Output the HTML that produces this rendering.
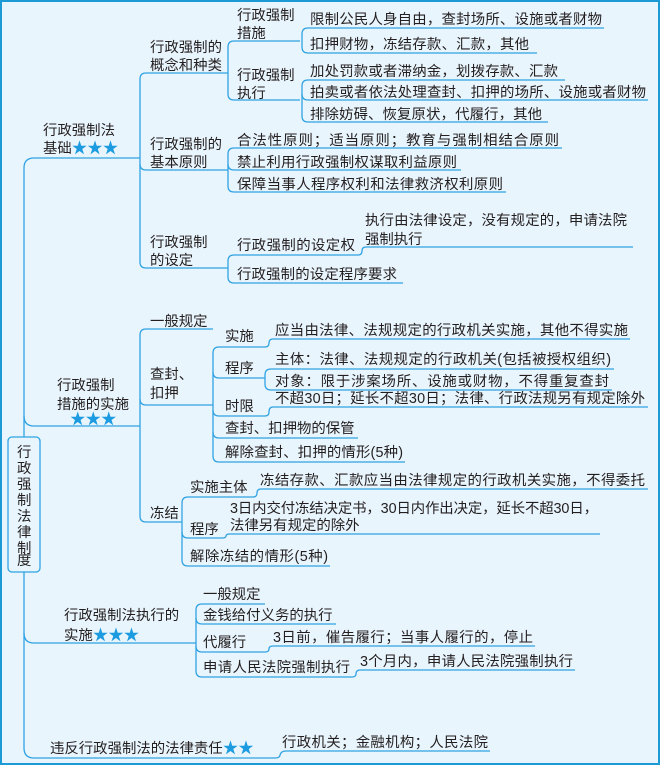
<!DOCTYPE html>
<html><head><meta charset="utf-8"><style>
html,body{margin:0;padding:0;background:#e9f5fd;}
svg{display:block;}
text{font-family:"Liberation Sans","Noto Sans CJK SC",sans-serif;font-size:14.4px;fill:#231f20;}
.s{fill:#1c9be0;font-size:15.5px;}
path{fill:none;stroke:#2fa2e3;stroke-width:1.3;}
</style></head><body>
<svg width="660" height="765" viewBox="0 0 660 765" xmlns="http://www.w3.org/2000/svg">
<rect x="0" y="0" width="660" height="765" fill="#e9f5fd"/>
<rect x="1" y="1" width="658" height="763" fill="none" stroke="#1b9ad6" stroke-width="2"/>

<!-- trunk -->
<path d="M24,437 L24,168 Q24,158 34,158 L140,158"/>
<path d="M24,416 Q24,426 34,426 L140,426"/>
<path d="M24,572 L24,748 Q24,758 34,758 L275,758 Q280,758 280,755 Q281,751 286,751 L490,751"/>
<path d="M24,633 Q24,643 34,643 L196,643"/>
<rect x="8" y="437" width="32" height="135" rx="4" fill="#e9f5fd" stroke="#2fa2e3" stroke-width="1.3"/>
<text x="17" y="457">行</text><text x="17" y="473">政</text><text x="17" y="489">强</text><text x="17" y="505">制</text><text x="17" y="521">法</text><text x="17" y="537">律</text><text x="17" y="553">制</text><text x="17" y="569" dy="-4">度</text>

<!-- section 1 -->
<text x="43" y="135">行政强制法</text>
<text x="43" y="153">基础<tspan class="s">★★★</tspan></text>
<path d="M140,79 Q140,73 146,73 L228,73"/>
<path d="M140,79 L140,262 Q140,268 146,268 L228,268"/>
<path d="M140,164 Q140,170 146,170 L228,170"/>
<text x="150" y="52">行政强制的</text><text x="150" y="70">概念和种类</text>
<text x="150" y="149">行政强制的</text><text x="150" y="167">基本原则</text>
<text x="150" y="247">行政强制</text><text x="150" y="265">的设定</text>

<path d="M228,47 Q228,41 234,41 L300,41"/>
<path d="M228,47 L228,94 Q228,100 234,100 L300,100"/>
<text x="237" y="20">行政强制</text><text x="237" y="38">措施</text>
<text x="237" y="80">行政强制</text><text x="237" y="98">执行</text>

<path d="M302,34 Q302,28 308,28 L604,28"/>
<path d="M302,34 L302,47 Q302,53 308,53 L537,53"/>
<text x="310" y="24" textLength="292">限制公民人身自由，查封场所、设施或者财物</text>
<text x="310" y="49" textLength="219">扣押财物，冻结存款、汇款，其他</text>

<path d="M302,86 Q302,80 308,80 L565,80"/>
<path d="M302,86 L302,116 Q302,122 308,122 L548,122"/>
<path d="M302,94 Q302,100 308,100 L648,100"/>
<text x="310" y="76" textLength="248">加处罚款或者滞纳金，划拨存款、汇款</text>
<text x="310" y="97" textLength="336">拍卖或者依法处理查封、扣押的场所、设施或者财物</text>
<text x="310" y="119" textLength="232">排除妨碍、恢复原状，代履行，其他</text>

<path d="M228,154 Q228,148 234,148 L562,148"/>
<path d="M228,154 L228,186 Q228,192 234,192 L506,192"/>
<path d="M228,164 Q228,170 234,170 L461,170"/>
<text x="237" y="145" textLength="322">合法性原则；适当原则；教育与强制相结合原则</text>
<text x="237" y="167" textLength="220">禁止利用行政强制权谋取利益原则</text>
<text x="237" y="189" textLength="266">保障当事人程序权利和法律救济权利原则</text>

<path d="M228,261 Q228,255 234,255 L358,255 Q362,255 362,251 Q362,247 366,247 L633,247"/>
<path d="M228,261 L228,277 Q228,283 234,283 L403,283"/>
<text x="237" y="250" textLength="118">行政强制的设定权</text>
<text x="365" y="225" textLength="262">执行由法律设定，没有规定的，申请法院</text>
<text x="365" y="244">强制执行</text>
<text x="237" y="279" textLength="160">行政强制的设定程序要求</text>

<!-- section 2 -->
<text x="57" y="390">行政强制</text>
<text x="57" y="409">措施的实施</text>
<text x="70" y="424" class="s">★★★</text>
<path d="M140,335 Q140,329 146,329 L213,329"/>
<path d="M140,335 L140,516 Q140,522 146,522 L182,522"/>
<path d="M140,399 Q140,405 146,405 L213,405"/>
<text x="150" y="326">一般规定</text>
<text x="150" y="379">查封、</text><text x="150" y="398">扣押</text>
<text x="150" y="518">冻结</text>

<path d="M213,353 Q213,347 219,347 L265,347 Q269,347 269,343 Q269,339 273,339 L630,339"/>
<path d="M213,353 L213,456 Q213,462 219,462 L405,462"/>
<path d="M213,372 Q213,378 219,378 L265,378"/>
<path d="M213,410 Q213,416 219,416 L265,416 Q269,416 269,412 Q269,407 273,407 L648,407"/>
<path d="M213,432 Q213,438 219,438 L358,438"/>
<text x="225" y="341">实施</text>
<text x="225" y="373">程序</text>
<text x="225" y="411">时限</text>
<text x="225" y="433">查封、扣押物的保管</text>
<text x="225" y="457" textLength="178">解除查封、扣押的情形(5种)</text>
<text x="275" y="335" textLength="353">应当由法律、法规规定的行政机关实施，其他不得实施</text>

<path d="M265,375 Q265,369 271,369 L614,369"/>
<path d="M265,375 L265,384 Q265,390 271,390 L612,390"/>
<text x="275" y="364" textLength="336">主体：法律、法规规定的行政机关(包括被授权组织)</text>
<text x="275" y="386" textLength="334">对象：限于涉案场所、设施或财物，不得重复查封</text>
<text x="275" y="403" textLength="370">不超30日；延长不超30日；法律、行政法规另有规定除外</text>

<path d="M182,503 Q182,497 188,497 L253,497 Q257,497 257,493 Q257,489 261,489 L648,489"/>
<path d="M182,503 L182,560 Q182,566 188,566 L330,566"/>
<path d="M182,532 Q182,538 188,538 L222,538 Q226,538 226,536 Q226,534 230,534 L600,534"/>
<text x="190" y="492">实施主体</text>
<text x="260" y="485" textLength="385">冻结存款、汇款应当由法律规定的行政机关实施，不得委托</text>
<text x="190" y="534">程序</text>
<text x="230" y="513" textLength="368">3日内交付冻结决定书，30日内作出决定，延长不超30日，</text>
<text x="230" y="530">法律另有规定的除外</text>
<text x="190" y="561" textLength="138">解除冻结的情形(5种)</text>

<!-- section 3 -->
<text x="64" y="620">行政强制法执行的</text>
<text x="64" y="640">实施<tspan class="s">★★★</tspan></text>
<path d="M196,610 Q196,604 202,604 L265,604"/>
<path d="M196,610 L196,671 Q196,677 202,677 L352,677 Q356,677 356,674 Q356,670 360,670 L575,670"/>
<path d="M196,618 Q196,624 202,624 L336,624"/>
<path d="M196,646 Q196,652 202,652 L265,652 Q269,652 269,649 Q269,646 273,646 L535,646"/>
<text x="203" y="599">一般规定</text>
<text x="203" y="620">金钱给付义务的执行</text>
<text x="203" y="647">代履行</text>
<text x="203" y="672" textLength="147">申请人民法院强制执行</text>
<text x="273" y="642" textLength="260">3日前，催告履行；当事人履行的，停止</text>
<text x="360" y="666" textLength="213">3个月内，申请人民法院强制执行</text>

<!-- section 4 -->
<text x="50" y="753">违反行政强制法的法律责任<tspan class="s">★★</tspan></text>
<text x="282" y="747" textLength="206">行政机关；金融机构；人民法院</text>
</svg>
</body></html>
